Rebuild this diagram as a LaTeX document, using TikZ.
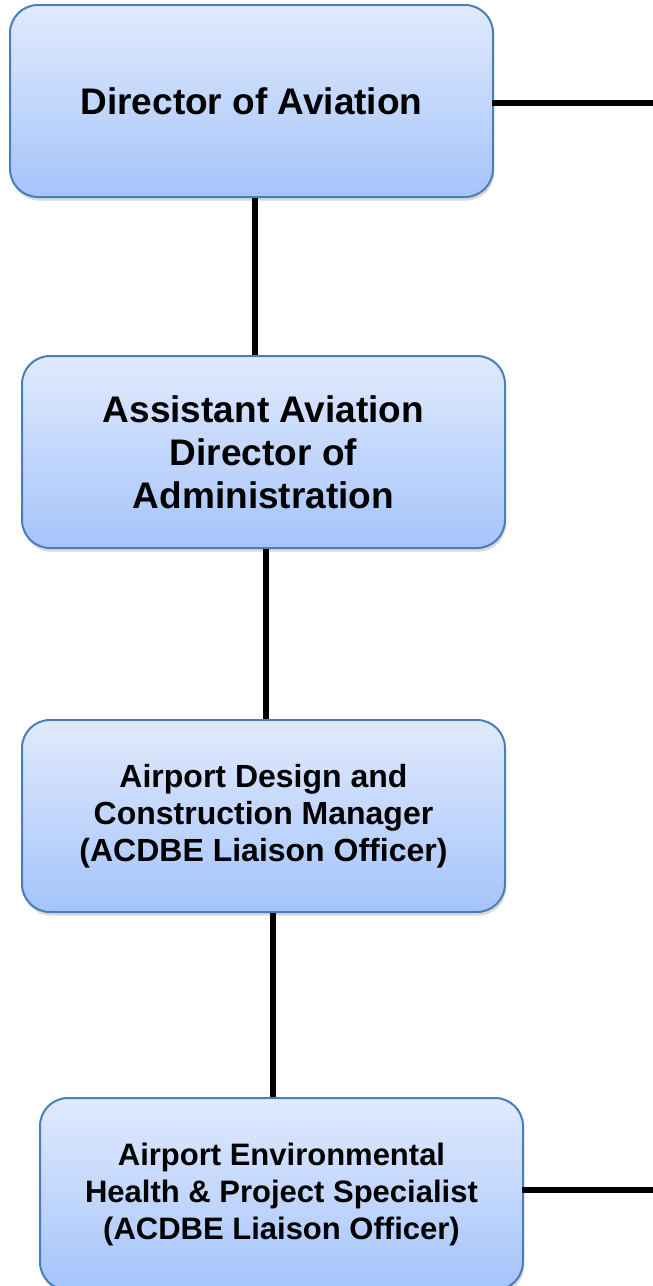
\documentclass[tikz,border=0pt]{standalone}
\usepackage{fontspec}
\setmainfont{Liberation Sans}
\usetikzlibrary{shadows}
\definecolor{boxtop}{RGB}{225,234,253}
\definecolor{boxbot}{RGB}{164,196,250}
\definecolor{boxline}{RGB}{74,126,187}
\begin{document}
\begin{tikzpicture}[x=0.5pt,y=-0.5pt]
	\tikzstyle{office}=[rectangle,rounded corners=14pt,draw=boxline,line width=1pt,top color=boxtop,bottom color=boxbot,minimum width=241.5pt,minimum height=96pt,align=center,font=\bfseries,drop shadow={shadow xshift=0.6pt,shadow yshift=-1.8pt,opacity=0.3}]
	\tikzstyle{link}=[draw,line width=3pt]
	\useasboundingbox (0,0) rectangle (653,1286);
	\begin{scope}
		\node [office,font=\bfseries\fontsize{18.5}{21.5}\selectfont] (o1) at (251.5,101) {Director of Aviation};
		\node [office,font=\bfseries\fontsize{18.5}{21.5}\selectfont] (o2) at (263.5,452) {Assistant Aviation\\Director of\\Administration};
		\node [office,font=\bfseries\fontsize{16}{18.5}\selectfont] (o3) at (263.5,816) {Airport Design and\\Construction Manager\\(ACDBE Liaison Officer)};
		\node [office,font=\bfseries\fontsize{15.5}{18.5}\selectfont] (o4) at (281.5,1194) {Airport Environmental\\Health \& Project Specialist\\(ACDBE Liaison Officer)};
		\coordinate (r1) at (653,103);
		\coordinate (r4) at (653,1190);

		\path[link] ([xshift=-1pt,yshift=-1pt]o1.east) edge (r1);
		\path[link] ([xshift=1.75pt]o1.south) edge ([xshift=1.75pt]o1.south |- o2.north);
		\path[link] ([xshift=1.25pt]o2.south) edge ([xshift=1.25pt]o2.south |- o3.north);
		\path[link] ([xshift=4.75pt]o3.south) edge ([xshift=4.75pt]o3.south |- o4.north);
		\path[link] ([xshift=-1pt,yshift=2pt]o4.east) edge (r4);
	\end{scope}
\end{tikzpicture}
\end{document}
